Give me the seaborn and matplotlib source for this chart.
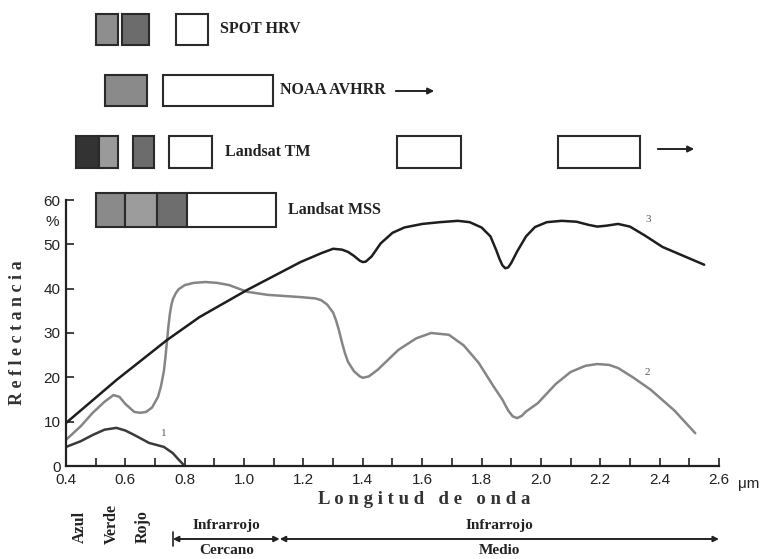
import numpy as np
import pandas as pd
import matplotlib
matplotlib.use("Agg")
import matplotlib.pyplot as plt
import matplotlib.transforms as mtransforms
from matplotlib.patches import Rectangle, FancyArrowPatch
import seaborn as sns

# curve 1 (agua), 2 (vegetacion), 3 (suelo)
wl_1 = [0.40, 0.45, 0.49, 0.53, 0.57, 0.60, 0.63, 0.68, 0.73, 0.76, 0.78, 0.80]
refl_1 = [4.3, 5.6, 7.0, 8.2, 8.6, 8.0, 7.0, 5.2, 4.3, 2.9, 1.4, 0.0]

wl_2 = [0.40, 0.45, 0.49, 0.53, 0.56, 0.58, 0.60, 0.63, 0.65, 0.67, 0.69, 0.71, 0.72,
        0.73, 0.735, 0.74, 0.745, 0.75, 0.755, 0.76, 0.77, 0.78, 0.80, 0.83, 0.87,
        0.91, 0.95, 1.01, 1.08, 1.19, 1.24, 1.26, 1.28, 1.30, 1.31, 1.32, 1.33, 1.34,
        1.35, 1.37, 1.39, 1.40, 1.42, 1.45, 1.52, 1.58, 1.63, 1.69, 1.74, 1.79, 1.84,
        1.87, 1.89, 1.905, 1.92, 1.935, 1.95, 1.99, 2.05, 2.10, 2.15, 2.19, 2.23,
        2.26, 2.31, 2.37, 2.45, 2.52]
refl_2 = [5.9, 9.0, 12.0, 14.5, 16.0, 15.6, 14.0, 12.2, 12.0, 12.2, 13.2, 15.6, 18.0,
          21.5, 24.5, 28.0, 31.5, 34.3, 36.3, 37.6, 39.0, 39.9, 40.8, 41.3, 41.5,
          41.3, 40.8, 39.3, 38.6, 38.1, 37.8, 37.4, 36.4, 34.6, 32.8, 30.5, 27.8, 25.4,
          23.5, 21.4, 20.2, 19.9, 20.2, 21.7, 26.2, 28.8, 30.0, 29.6, 27.2, 23.3, 18.0,
          15.0, 12.5, 11.2, 10.8, 11.3, 12.3, 14.2, 18.5, 21.2, 22.6, 23.0, 22.8,
          22.1, 20.0, 17.2, 12.5, 7.4]

wl_3 = [0.40, 0.57, 0.74, 0.85, 1.01, 1.19, 1.26, 1.30, 1.33, 1.35, 1.37, 1.39, 1.40,
        1.41, 1.43, 1.46, 1.50, 1.54, 1.60, 1.66, 1.72, 1.76, 1.80, 1.83, 1.85, 1.86,
        1.87, 1.88, 1.89, 1.90, 1.92, 1.95, 1.98, 2.02, 2.07, 2.12, 2.16, 2.19, 2.22,
        2.26, 2.30, 2.35, 2.41, 2.48, 2.55]
refl_3 = [9.7, 19.4, 28.4, 33.6, 39.7, 46.0, 48.0, 49.0, 48.8, 48.3, 47.4, 46.3, 46.0,
          46.1, 47.3, 50.2, 52.6, 53.8, 54.6, 55.0, 55.3, 55.0, 53.8, 51.8, 48.6, 46.8,
          45.3, 44.6, 44.8, 45.8, 48.4, 51.8, 53.9, 55.0, 55.3, 55.1, 54.4, 54.0, 54.2,
          54.6, 54.0, 52.0, 49.4, 47.4, 45.4]

curve_ids = ["1", "2", "3"]
curve_colors = ["#3a3a3a", "#858585", "#1e1e1e"]
curve_label_pos = [(0.73, 7.4), (2.36, 21.2), (2.36, 55.5)]

# sensor bands (micrometres) and their fill greys
sensors = ["SPOT HRV", "NOAA AVHRR", "Landsat TM", "Landsat MSS"]
spot_bands = [(0.50, 0.575), (0.59, 0.68), (0.77, 0.88)]
spot_fill = ["#8e8e8e", "#6c6c6c", "white"]
noaa_bands = [(0.53, 0.673), (0.727, 1.097)]
noaa_fill = ["#8a8a8a", "white"]
tm_bands = [(0.434, 0.511), (0.511, 0.575), (0.626, 0.697), (0.747, 0.892),
            (1.515, 1.731), (2.058, 2.334)]
tm_fill = ["#333333", "#9a9a9a", "#6c6c6c", "white", "white", "white"]
mss_bands = [(0.501, 0.599), (0.599, 0.707), (0.707, 0.808), (0.808, 1.108)]
mss_fill = ["#8a8a8a", "#9c9c9c", "#6e6e6e", "white"]

xticks = [0.4, 0.6, 0.8, 1.0, 1.2, 1.4, 1.6, 1.8, 2.0, 2.2, 2.4, 2.6]
yticks = [0, 10, 20, 30, 40, 50, 60]

df = pd.concat([
    pd.DataFrame({"wl": wl_1, "refl": refl_1, "curva": "1"}),
    pd.DataFrame({"wl": wl_2, "refl": refl_2, "curva": "2"}),
    pd.DataFrame({"wl": wl_3, "refl": refl_3, "curva": "3"}),
])

sns.set_style("ticks")
plt.rcParams["font.family"] = ["Liberation Sans", "DejaVu Sans"]

fig = plt.figure(figsize=(7.6, 5.59), dpi=100)
ax = fig.add_axes([66 / 760, 1 - 466 / 559, 653 / 760, 266 / 559])

sns.lineplot(data=df, x="wl", y="refl", hue="curva", palette=dict(zip(curve_ids, curve_colors)),
             sort=False, linewidth=1.8, legend=False, ax=ax)
for cid, (lx, ly) in zip(curve_ids, curve_label_pos):
    ax.text(lx, ly, cid, fontsize=8, color="#555555", family="Liberation Serif",
            ha="center", va="center")

ax.set_xlim(0.4, 2.6)
ax.set_ylim(0, 60)
sns.despine(ax=ax)
for s in ["left", "bottom"]:
    ax.spines[s].set_linewidth(1.6)
    ax.spines[s].set_color("#222222")

ax.set_xticks(xticks)
ax.set_xticklabels([f"{v:.1f}" for v in xticks])
ax.set_xticks(np.arange(0.5, 2.6, 0.2), minor=True)
ax.set_yticks(yticks)
ax.tick_params(axis="both", which="both", direction="in", length=6, width=1.2,
               color="#222222", labelsize=11, labelcolor="#222222")
ax.tick_params(axis="x", pad=5)
ax.tick_params(axis="y", pad=4)
ax.set_xlabel("")
ax.set_ylabel("")

# axis titles and units
fig.text(18 / 760, 1 - 333 / 559, "R e f l e c t a n c i a", rotation=90, ha="center", va="center",
         fontsize=13, family="Liberation Serif", weight="bold", color="#333333")
fig.text(424 / 760, 1 - 500 / 559, "L o n g i t u d   d e   o n d a", ha="center", va="center",
         fontsize=13.5, family="Liberation Serif", weight="bold", color="#333333")
fig.text(52 / 760, 1 - 222 / 559, "%", ha="center", va="center", fontsize=11, color="#222222")
fig.text(738 / 760, 1 - 484 / 559, "μm", ha="left", va="center", fontsize=11, color="#222222")

# sensor bands above the plot (x in data, y in figure pixels)
trans = mtransforms.blended_transform_factory(ax.transData, fig.transFigure)
rows = [(spot_bands, spot_fill, 14, 45), (noaa_bands, noaa_fill, 75, 106),
        (tm_bands, tm_fill, 136, 168), (mss_bands, mss_fill, 193, 227)]
for bands, fills, top, bot in rows:
    y0 = 1 - bot / 559
    h = (bot - top) / 559
    for (b0, b1), fc in zip(bands, fills):
        ax.add_patch(Rectangle((b0, y0), b1 - b0, h, transform=trans, clip_on=False,
                               facecolor=fc, edgecolor="#2a2a2a", linewidth=1.5, zorder=5))

label_x = [220, 280, 225, 288]
label_y = [29, 90, 152, 210]
for name, lx, ly in zip(sensors, label_x, label_y):
    fig.text(lx / 760, 1 - ly / 559, name, ha="left", va="center", fontsize=11.5,
             family="Liberation Serif", weight="bold", color="#222222")

arrow_kw = dict(arrowstyle="-|>", color="#222222", lw=1.4, mutation_scale=9)
fig.add_artist(FancyArrowPatch((393 / 760, 1 - 91 / 559), (437 / 760, 1 - 91 / 559),
                               transform=fig.transFigure, **arrow_kw))
fig.add_artist(FancyArrowPatch((655 / 760, 1 - 149 / 559), (697 / 760, 1 - 149 / 559),
                               transform=fig.transFigure, **arrow_kw))

# spectral regions below the axis
colour_names = ["Azul", "Verde", "Rojo"]
colour_x = [80, 112, 143]
colour_y = [527, 524, 527]
for name, cx, cy in zip(colour_names, colour_x, colour_y):
    fig.text(cx / 760, 1 - cy / 559, name, rotation=90, ha="center", va="center", fontsize=11.5,
             family="Liberation Serif", weight="bold", color="#222222")

region_edges = [0.76, 1.12, 2.6]
region_top = ["Infrarrojo", "Infrarrojo"]
region_bottom = ["Cercano", "Medio"]
arrow_y = 1 - 539 / 559
for i in range(2):
    a, b = region_edges[i], region_edges[i + 1]
    ax.annotate("", xy=(b, arrow_y), xytext=(a, arrow_y), xycoords=trans, textcoords=trans,
                arrowprops=dict(arrowstyle="<|-|>", color="#222222", lw=1.4, mutation_scale=8,
                                shrinkA=0, shrinkB=0))
    mid = (a + b) / 2
    ax.text(mid, 1 - 526 / 559, region_top[i], transform=trans, ha="center", va="center",
            fontsize=11, family="Liberation Serif", weight="bold", color="#222222")
    ax.text(mid, 1 - 551 / 559, region_bottom[i], transform=trans, ha="center", va="center",
            fontsize=11, family="Liberation Serif", weight="bold", color="#222222")
ax.plot([0.76, 0.76], [arrow_y - 0.012, arrow_y + 0.012], transform=trans, clip_on=False,
        color="#222222", lw=1.2)

fig.savefig("out.png", dpi=100)
